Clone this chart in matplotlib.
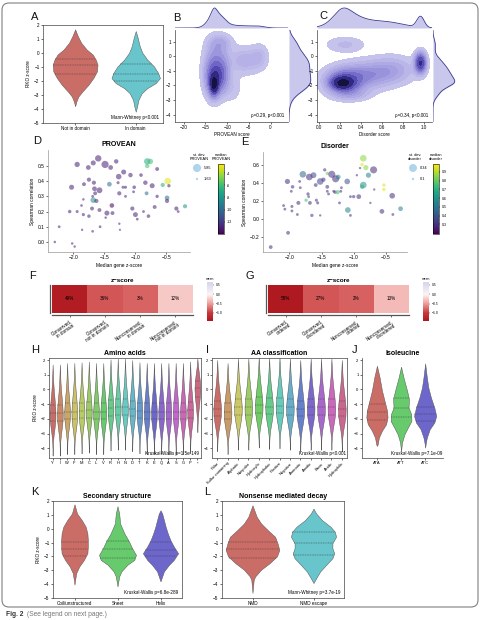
import numpy as np
import matplotlib
matplotlib.use("Agg")
import matplotlib.pyplot as plt
import seaborn as sns
from matplotlib.colors import LinearSegmentedColormap, Normalize
from matplotlib.cm import ScalarMappable
from matplotlib.patches import FancyBboxPatch

plt.rcParams['font.family'] = ['Liberation Sans', 'DejaVu Sans']
plt.rcParams['axes.linewidth'] = 0.5

W, H = 481, 620

# ---------- data ----------
# A: violin profiles (y, half width)
a_labels = ["Not in domain", "In domain"]
a_y = [[1.69, 1.21, 0.73, 0.25, -0.11, -0.47, -0.83, -1.31, -1.79, -2.27, -2.75, -3.1, -3.47, -3.8],
       [1.57, 1.09, 0.49, 0.01, -0.47, -0.95, -1.43, -1.79, -2.15, -2.51, -2.87, -3.35, -3.83, -4.19]]
a_w = [[0, .044, .10, .19, .29, .34, .37, .36, .30, .22, .12, .055, .02, 0],
       [0, .033, .066, .11, .19, .30, .37, .40, .33, .19, .10, .044, .022, 0]]
a_quart = [[-0.42, -0.88, -1.47], [-0.78, -1.5, -2.03]]

# B / C: density blobs (centre x, centre y, spread x, spread y, weight)
b_cx = [-13.0, -13.0, -12.5, -11.5, -6.0, -2.5, -11.0, -9.0]
b_cy = [-2.0, -1.6, -0.5, 0.9, -0.3, 0.0, -1.3, -2.2]
b_sx = [0.6, 1.3, 1.8, 1.8, 2.5, 1.3, 1.0, 1.5]
b_sy = [0.45, 0.8, 1.0, 0.4, 0.6, 0.55, 0.7, 0.6]
b_wt = [1.0, 0.9, 0.5, 0.25, 0.3, 0.18, 0.35, 0.15]
c_cx = [0.22, 0.24, 0.45, 0.7, 0.97, 0.25, 0.3]
c_cy = [-1.85, -1.7, -1.3, -0.9, -0.45, 0.8, -2.6]
c_sx = [0.07, 0.12, 0.18, 0.15, 0.035, 0.12, 0.12]
c_sy = [0.28, 0.55, 0.6, 0.6, 0.45, 0.35, 0.3]
c_wt = [1.0, 0.8, 0.45, 0.3, 1.2, 0.2, 0.25]

# D: PROVEAN genes
d_x = [-2.30, -2.02, -1.98, -2.23, -2.06, -1.94, -1.87, -1.86, -1.84, -1.75, -1.69, -1.70, -1.57, -1.58,
       -1.46, -1.48, -1.37, -1.38, -1.26, -1.25, -1.05, -1.00, -0.97, -0.87, -0.79, -0.69, -0.34, -0.31,
       -0.20, -2.03, -1.94, -1.76, -1.68, -1.60, -1.49, -1.40, -1.31, -1.83, -1.75, -1.67, -1.66, -1.58,
       -1.65, -1.68, -1.63, -1.69, -1.84, -1.42, -1.27, -1.19, -1.28, -1.20, -1.16, -1.26, -1.16, -1.08,
       -1.02, -1.03, -0.91, -0.84, -0.73, -0.82, -0.65, -0.65, -0.81, -0.76, -0.81, -0.56, -0.48, -0.46,
       -0.49, -0.49]
d_y = [0.00, -0.01, -0.03, 0.10, 0.20, 0.20, 0.24, 0.08, 0.18, 0.17, 0.07, 0.22, 0.10, 0.21,
       0.19, 0.16, 0.19, 0.24, 0.12, 0.08, 0.22, 0.18, 0.15, 0.20, 0.17, 0.23, 0.22, 0.20,
       0.235, 0.36, 0.51, 0.49, 0.52, 0.55, 0.51, 0.49, 0.53, 0.38, 0.41, 0.39, 0.35, 0.34,
       0.32, 0.275, 0.27, 0.30, 0.28, 0.38, 0.43, 0.46, 0.39, 0.36, 0.36, 0.32, 0.30, 0.44,
       0.36, 0.33, 0.44, 0.39, 0.37, 0.32, 0.48, 0.30, 0.53, 0.53, 0.50, 0.375, 0.40, 0.37,
       0.29, 0.27]
d_sd = [1.8, 1.8, 1.8, 2.0, 2.5, 2.2, 1.9, 1.7, 2.3, 2.5, 1.9, 2.8, 2.0, 2.8,
        3.6, 1.8, 2.8, 3.3, 1.7, 1.63, 3.0, 3.5, 2.0, 2.0, 2.6, 2.8, 3.0, 2.0,
        3.0, 3.6, 3.8, 3.4, 3.6, 4.6, 5.2, 3.4, 3.2, 2.8, 3.0, 3.0, 3.4, 4.2,
        2.8, 4.0, 3.0, 2.0, 1.8, 3.4, 4.0, 3.6, 2.2, 2.2, 2.2, 3.0, 2.0, 3.2,
        2.6, 2.0, 2.6, 3.2, 3.6, 2.8, 2.8, 2.4, 4.6, 4.0, 3.2, 3.0, 4.8, 2.4,
        3.4, 3.0]
d_med = [-13, -13, -13, -13, -13, -13, -13, -13, -13, -13, -13, -13, -13, -13,
         -13, -13, -13, -14, -13, -12, -13, -13, -13, -13, -13, -13, -13, -13,
         -8, -13, -13, -13, -13, -13, -13, -13, -13, -13, -13, -13, -13, -13,
         -13, -8.5, -13, -13, -13, -10, -13, -13, -13, -13, -13, -13, -13, -13,
         -13, -13, -13, -13, -13, -10, -13, -13, -7, -6, -6, -7, -3, -13,
         -10, -13]

# E: disorder genes
e_x = [-2.29, -2.02, -2.03, -1.95, -1.97, -2.09, -2.07, -1.96, -1.96, -1.875, -1.86, -1.84, -1.83, -1.79,
       -1.74, -1.69, -1.625, -1.70, -1.71, -1.68, -1.65, -1.59, -1.58, -1.56, -1.52, -1.52, -1.47, -1.45,
       -1.41, -1.41, -1.41, -1.39, -1.34, -1.31, -1.29, -1.28, -1.24, -1.25, -1.22, -1.19, -1.20, -1.10,
       -1.09, -1.05, -1.05, -1.00, -0.95, -0.92, -0.90, -0.85, -0.87, -0.81, -0.85, -0.87, -0.77, -0.74,
       -0.69, -0.68, -0.53, -0.53, -0.56, -0.39, -0.40, -0.27]
e_y = [-0.315, -0.155, 0.42, 0.36, 0.31, 0.15, 0.11, 0.14, 0.09, 0.05, 0.18, 0.42, 0.35, 0.50,
       0.21, 0.47, 0.49, 0.25, 0.28, 0.18, 0.04, 0.38, 0.21, 0.18, 0.42, 0.04, 0.44, 0.55,
       0.51, 0.36, 0.31, 0.28, 0.50, 0.31, 0.30, 0.45, 0.47, 0.30, 0.18, 0.35, 0.31, 0.42,
       0.10, 0.25, 0.04, 0.25, 0.49, 0.25, 0.57, 0.68, 0.61, 0.575, 0.38, 0.36, 0.49, 0.18,
       0.55, 0.33, 0.38, 0.33, 0.085, 0.05, 0.26, 0.115]
e_sd = [0.16, 0.16, 0.22, 0.15, 0.12, 0.12, 0.12, 0.13, 0.12, 0.12, 0.17, 0.12, 0.12, 0.28,
        0.14, 0.28, 0.25, 0.12, 0.14, 0.16, 0.14, 0.16, 0.13, 0.13, 0.28, 0.10, 0.18, 0.14,
        0.14, 0.16, 0.12, 0.12, 0.30, 0.12, 0.14, 0.30, 0.20, 0.18, 0.12, 0.12, 0.12, 0.24,
        0.24, 0.12, 0.12, 0.14, 0.10, 0.20, 0.10, 0.28, 0.14, 0.22, 0.28, 0.18, 0.22, 0.10,
        0.30, 0.10, 0.14, 0.14, 0.20, 0.12, 0.24, 0.20]
e_med = [0.3, 0.3, 0.3, 0.3, 0.3, 0.3, 0.3, 0.3, 0.3, 0.3, 0.3, 0.3, 0.3, 0.45,
         0.75, 0.3, 0.35, 0.35, 0.3, 0.3, 0.3, 0.3, 0.3, 0.3, 0.35, 0.3, 0.3, 0.3,
         0.8, 0.3, 0.3, 0.3, 0.3, 0.3, 0.3, 0.3, 0.55, 0.75, 0.3, 0.3, 0.3, 0.4,
         0.55, 0.3, 0.3, 0.3, 0.3, 0.3, 0.3, 0.85, 0.95, 0.85, 0.6, 0.7, 0.55, 0.3,
         0.3, 0.3, 0.95, 0.95, 0.3, 0.3, 0.3, 0.55]

# F / G: heatmaps
f_labels = ["Conserved,\nin domain", "Conserved,\nnot in domain", "Nonconserved,\nin domain", "Nonconserved,\nnot in domain"]
f_mean = [-1.35, -0.85, -0.78, -0.25]
f_pct = ["49%", "36%", "3%", "12%"]
g_labels = ["Conserved,\nordered", "Conserved,\ndisordered", "Nonconserved,\nordered", "Nonconserved,\ndisordered"]
g_mean = [-1.4, -0.85, -0.8, -0.33]
g_pct = ["58%", "27%", "2%", "13%"]

# H / I: shared violin templates (y, relative half width) and per-category shifts
tmpl_y = [[1.8, 1.2, 0.6, 0.0, -0.5, -1.0, -1.5, -2.0, -2.5, -3.0, -3.5, -4.0, -4.4],
          [2.1, 1.6, 1.0, 0.5, 0.0, -0.5, -1.0, -1.5, -2.0, -2.5, -2.9]]
tmpl_w = [[0, .1, .22, .42, .65, .85, 1.0, .95, .68, .35, .12, .03, 0],
          [0, .2, .6, .9, 1.0, .85, .6, .35, .15, .05, 0]]
tmpl_q = [[-0.95, -1.52, -2.02], [0.6, 0.1, -0.5]]
h_labels = list("YIWFMCLVRHNDTKEQASGP") + ["*"]
h_shift = [-0.1, -0.1, 0, 0, 0.05, 0.1, 0, 0, 0.25, 0.3, 0.3, 0.2, 0.05, 0, 0, 0, 0, 0, 0, 0.1, 0]
h_kind = [0] * 20 + [1]
i_labels = ["Polar", "Sulfur containing", "Aliphatic", "Nonpolar", "Hydroxylic", "Hydrophobic", "Positive",
            "Negative", "Aromatic", "Amidic", "Basic", "Acidic", "Hydrophilic"]
i_shift = [0.2, 0.0, 0.3, 0.3, 0.45, 0.35, 0.4, 0.3, 0.2, 0.3, 0.3, 0.3, 0.2]

# J: isoleucine codons
j_labels = ["ATA", "ATT", "ATC"]
j_y = [[1.61, 0.82, -0.09, -1.0, -1.45, -1.9, -2.36, -2.8, -3.27, -3.73, -3.84],
       [1.55, 0.82, -0.09, -0.66, -1.23, -1.68, -2.14, -2.6, -3.05, -3.6, -4.2],
       [1.77, 0.82, 0.14, -0.55, -1.23, -1.8, -2.25, -2.7, -3.27, -3.6, -3.95]]
j_w = [[0, .11, .21, .35, .42, .44, .38, .21, .08, .03, 0],
       [0, .10, .25, .33, .31, .42, .43, .28, .14, .04, 0],
       [0, .07, .13, .24, .38, .46, .38, .19, .07, .03, 0]]
j_quart = [[-1.0, -1.55, -2.05], [-0.6, -1.27, -1.9], [-1.2, -1.7, -2.15]]

# K: secondary structure
k_labels = ["Coil/unstructured", "Sheet", "Helix"]
k_y = [[1.76, 1.09, 0.62, 0.14, -0.34, -0.82, -1.29, -1.77, -2.25, -2.73, -3.2, -3.68, -4.04],
       [1.62, 1.09, 0.38, -0.34, -0.94, -1.41, -1.89, -2.25, -2.6, -3.08, -3.44, -4.16],
       [1.33, 1.09, 0.62, 0.14, -0.34, -0.82, -1.29, -1.77, -2.25, -2.6, -3.08, -3.44, -3.8]]
k_w = [[0, .06, .17, .26, .30, .31, .31, .30, .22, .11, .04, .016, 0],
       [0, .04, .06, .16, .27, .34, .43, .39, .23, .09, .04, 0],
       [0, .04, .08, .12, .17, .23, .31, .41, .31, .20, .08, .04, 0]]
k_quart = [[-0.94, -1.48, -2.0], [-0.89, -1.48, -2.13], [-0.95, -1.5, -2.0]]

# L: nonsense mediated decay
l_labels = ["NMD", "NMD escape"]
l_y = [[1.69, 1.33, 0.85, 0.38, -0.1, -0.58, -1.05, -1.53, -2.0, -2.49, -2.96, -3.44, -3.68, -4.63],
       [1.45, 1.09, 0.62, 0.14, -0.22, -0.58, -1.05, -1.41, -1.77, -2.13, -2.6, -3.08, -3.56, -3.92]]
l_w = [[0, .03, .07, .14, .25, .37, .41, .44, .40, .28, .14, .045, .02, 0],
       [0, .045, .14, .28, .35, .37, .31, .31, .34, .31, .21, .11, .045, 0]]
l_quart = [[-0.95, -1.48, -2.08], [-0.27, -1.0, -1.89]]


# ---------- helpers ----------
def rect(x0, y0, x1, y1):
    return [x0 / W, 1 - y1 / H, (x1 - x0) / W, (y1 - y0) / H]


def violin(ax, pos, ys, ws, color, quart, scale=1.0):
    ys = np.asarray(ys, float)
    ws = np.asarray(ws, float) * scale
    ax.fill_betweenx(ys, pos - ws, pos + ws, facecolor=color, edgecolor='#555555', lw=0.35)
    for q in quart:
        hw = np.interp(q, ys[::-1], ws[::-1])
        ax.plot([pos - hw, pos + hw], [q, q], ls=(0, (2, 1.5)), lw=0.35, color='#333333')


def style_box(ax, fs=3.3):
    ax.tick_params(labelsize=fs, length=1.5, width=0.4, pad=1)
    for s in ax.spines.values():
        s.set_color('#444444')
        s.set_linewidth(0.5)


def dens2d(X, Y, cx, cy, sx, sy, wt):
    Z = np.zeros_like(X)
    for a, b, c, d, e in zip(cx, cy, sx, sy, wt):
        Z += e * np.exp(-0.5 * (((X - a) / c) ** 2 + ((Y - b) / d) ** 2))
    return Z


def iso_levels(Z, props):
    # density thresholds that enclose the given share of mass (like seaborn's kdeplot)
    z = np.sort(Z.ravel())[::-1]
    c = np.cumsum(z)
    c /= c[-1]
    return sorted(z[np.searchsorted(c, p)] for p in props)


fig = plt.figure(figsize=(W / 100, H / 100), dpi=100)

# ---------- A ----------
pal2 = sns.color_palette("hls", 2, desat=0.75)
ax = fig.add_axes(rect(43, 25, 163, 123))
for i in range(2):
    violin(ax, i, a_y[i], a_w[i], pal2[i], a_quart[i])
ax.set_xlim(-0.53, 1.45)
ax.set_ylim(-5, 2)
ax.set_yticks(range(-5, 3))
ax.set_xticks([0, 1])
ax.set_xticklabels(a_labels)
ax.set_ylabel("RKO z-score", fontsize=3.3, labelpad=2)
ax.text(0.97, 0.03, "Mann-Whitney p<0.001", transform=ax.transAxes, ha='right', va='bottom', fontsize=3.3)
style_box(ax)

# ---------- B / C ----------
kde_cmap = LinearSegmentedColormap.from_list("kde", ["#cac8ee", "#a29de0", "#746bca", "#463ca6", "#231f6c", "#0b0a24"])
edge_col = '#3b3b8f'
props = [0.95, 0.85, 0.75, 0.65, 0.55, 0.45, 0.35, 0.25, 0.15, 0.05]
for (x0, x1, xl, xr, cx, cy, sx, sy, wt, xticks, xlab, note) in [
        (175, 288, -22, 4, b_cx, b_cy, b_sx, b_sy, b_wt, [-20, -15, -10, -5, 0], "PROVEAN score", "\u03c1=0.29, p<0.001"),
        (317, 432, -0.02, 1.08, c_cx, c_cy, c_sx, c_sy, c_wt, [0, .2, .4, .6, .8, 1.0], "Disorder score", "\u03c1=0.34, p<0.001")]:
    ax = fig.add_axes(rect(x0, 30, x1, 122))
    xs = np.linspace(xl, xr, 300)
    ys = np.linspace(-4.5, 1.8, 300)
    X, Y = np.meshgrid(xs, ys)
    Z = dens2d(X, Y, cx, cy, sx, sy, wt)
    lev = iso_levels(Z, props) + [Z.max() * 1.01]
    ax.contourf(X, Y, Z, levels=lev, cmap=kde_cmap)
    ax.set_xlim(xl, xr)
    ax.set_ylim(-4.5, 1.8)
    ax.set_xticks(xticks)
    if xl > -1:
        ax.set_xticklabels(["%.1f" % t for t in xticks])
    ax.set_yticks([1, 0, -1, -2, -3, -4])
    ax.set_xlabel(xlab, fontsize=3.3, labelpad=1)
    ax.text(0.97, 0.04, note, transform=ax.transAxes, ha='right', va='bottom', fontsize=3.3)
    style_box(ax)
    ax.spines['top'].set_visible(False)
    ax.spines['right'].set_visible(False)
    # marginals
    mx = Z.sum(axis=0)
    my = Z.sum(axis=1)
    axt = fig.add_axes(rect(x0, 3, x1, 28))
    axt.fill_between(xs, 0, mx, color='#c9c7ec', lw=0)
    axt.plot(xs, mx, color=edge_col, lw=0.6)
    axt.set_xlim(xl, xr)
    axt.set_ylim(0, mx.max() * 1.25)
    axt.axis('off')
    axr = fig.add_axes(rect(x1 + 1, 30, x1 + 26, 122))
    axr.fill_betweenx(ys, 0, my, color='#c9c7ec', lw=0)
    axr.plot(my, ys, color=edge_col, lw=0.6)
    axr.set_ylim(-4.5, 1.8)
    axr.set_xlim(0, my.max() * 1.15)
    axr.axis('off')

# ---------- D / E ----------
ov = fig.add_axes([0, 0, 1, 1], zorder=10)
ov.set_xlim(0, W)
ov.set_ylim(H, 0)
ov.axis('off')

for (x0, x1, y0, xs_, ys_, sd, med, k, vmin, vmax, ttl, yl, yt, cbx, cbt, cbfmt, leg, lname) in [
        (48, 190, 150, d_x, d_y, d_sd, d_med, 1.0, -14, -2.5, "PROVEAN", (-0.066, 0.605),
         [0.0, 0.1, 0.2, 0.3, 0.4, 0.5], 218, [-4, -6, -8, -10, -12], "%d", (5.85, 1.63), "PROVEAN"),
        (263, 407, 152, e_x, e_y, e_sd, e_med, 17.0, 0.19, 0.99, "Disorder", (-0.37, 0.75),
         [-0.2, 0.0, 0.2, 0.4, 0.6], 433, [0.3, 0.4, 0.5, 0.6, 0.7, 0.8, 0.9], "%.1f", (0.34, 0.1), "disorder")]:
    ax = fig.add_axes(rect(x0, y0, x1, 252))
    norm = Normalize(vmin, vmax)
    ax.scatter(xs_, ys_, s=(np.array(sd) * k) ** 2, c=med, cmap='viridis', norm=norm, alpha=0.55, lw=0)
    ax.set_xlim(-2.41, -0.12 if k == 1 else -0.17)
    ax.set_ylim(*yl)
    ax.set_yticks(yt)
    ax.set_xticks([-2.0, -1.5, -1.0, -0.5])
    ax.set_xlabel("Median gene z-score", fontsize=3.5, labelpad=2)
    ax.set_ylabel("Spearman correlation", fontsize=3.5, labelpad=2)
    ax.set_title(ttl, fontsize=5, fontweight='bold', pad=3)
    style_box(ax, 3.5)
    ax.spines['top'].set_visible(False)
    ax.spines['right'].set_visible(False)
    ax.spines['left'].set_color('#999999')
    ax.spines['bottom'].set_color('#999999')
    cax = fig.add_axes(rect(cbx, 164, cbx + 6, 234))
    cb = fig.colorbar(ScalarMappable(norm=norm, cmap='viridis'), cax=cax)
    cb.set_ticks(cbt)
    cb.set_ticklabels([cbfmt % t for t in cbt])
    cb.ax.tick_params(labelsize=2.6, length=1, width=0.3, pad=1)
    cb.outline.set_linewidth(0.4)
    ov.text(cbx + 3, 157, "median\n" + lname, fontsize=2.8, ha='center', va='center', linespacing=0.9)
    lx = cbx - 21 if k == 1 else cbx - 20
    ov.text(lx + 2, 157, "st. dev.\n" + lname, fontsize=2.8, ha='center', va='center', linespacing=0.9)
    ov.scatter([lx, lx], [168, 179], s=(np.array(leg) * k) ** 2, color='#9ccbe6', alpha=0.8, lw=0)
    ov.text(lx + 7, 168, str(leg[0]), fontsize=2.8, va='center')
    ov.text(lx + 7, 179, str(leg[1]), fontsize=2.8, va='center')

# ---------- F / G ----------
heat_cmap = LinearSegmentedColormap.from_list(
    "heat", [(0, "#ae1820"), (0.206, "#c7373a"), (0.445, "#ef9c98"), (0.684, "#fcf4f4"), (1.0, "#d2d4ee")])
hnorm = Normalize(-1.43, 0.66)
for (x0, x1, vals, pct, labs) in [(52, 193, f_mean, f_pct, f_labels), (268, 409, g_mean, g_pct, g_labels)]:
    ax = fig.add_axes(rect(x0, 285, x1, 313))
    ax.pcolormesh(np.array([vals]), cmap=heat_cmap, norm=hnorm)
    for i, t in enumerate(pct):
        ax.text(i + 0.5, 0.5, t, ha='center', va='center', fontsize=3.3)
    for s in ['top', 'right']:
        ax.spines[s].set_visible(False)
    for s in ['left', 'bottom']:
        ax.spines[s].set_color('#555555')
        ax.spines[s].set_linewidth(0.9)
        ax.spines[s].set_position(('outward', 1.5))
    ax.set_xlim(0, 4)
    ax.set_ylim(0, 1)
    ax.set_yticks([])
    ax.set_xticks(np.arange(4) + 0.5)
    ax.set_xticklabels(labs, rotation=35, ha='right', rotation_mode='anchor', fontsize=3.3, linespacing=1.0)
    ax.tick_params(axis='x', length=1.5, width=0.4, pad=1, labelsize=3.3)
    ax.set_title("z\u2212score", fontsize=4.5, fontweight='bold', pad=2)
    cax = fig.add_axes(rect(x1 + 14, 282, x1 + 20, 321))
    cb = fig.colorbar(ScalarMappable(norm=hnorm, cmap=heat_cmap), cax=cax)
    cb.set_ticks([0.5, 0.0, -0.5, -1.0])
    cb.set_ticklabels(["0.5", "0.0", "\u22120.5", "\u22121.0"])
    cb.ax.tick_params(labelsize=2.4, length=1, width=0.3, pad=1)
    cb.outline.set_visible(False)
    ov.text(x1 + 17, 279.5, "mean", fontsize=2.4, ha='center', va='center')

# ---------- H / I ----------
for (x0, x1, labs, shifts, kinds, ttl, note, rot, scale) in [
        (49, 201, h_labels, h_shift, h_kind, "Amino acids", "Kruskal-Wallis p=1.5e-149", 0, 0.4),
        (212, 347, i_labels, i_shift, [0] * 13, "AA classification", "Kruskal-Wallis p<0.001", 45, 0.37)]:
    ax = fig.add_axes(rect(x0, 358, x1, 458))
    pal = sns.color_palette("hls", len(labs), desat=0.75)
    for i in range(len(labs)):
        kd = kinds[i]
        yy = np.array(tmpl_y[kd]) + shifts[i]
        qq = np.array(tmpl_q[kd]) + shifts[i]
        violin(ax, i, yy, tmpl_w[kd], pal[i], qq, scale)
    ax.set_xlim(-0.5, len(labs) - 0.5)
    ax.set_ylim(-4.66, 2.14)
    ax.set_yticks(range(-4, 3))
    ax.set_xticks(range(len(labs)))
    if rot:
        ax.set_xticklabels(labs, rotation=45, ha='right', rotation_mode='anchor', fontsize=2.9)
    else:
        ax.set_xticklabels(labs, fontsize=3.0)
    ax.set_title(ttl, fontsize=5, fontweight='bold', pad=2)
    ax.text(0.99, 0.02, note, transform=ax.transAxes, ha='right', va='bottom', fontsize=3.3)
    style_box(ax, 3.0)
    ax.tick_params(axis='x', labelsize=2.9)
    if x0 == 49:
        ax.set_ylabel("RKO z-score", fontsize=3.3, labelpad=2)

# ---------- J ----------
pal3 = sns.color_palette("hls", 3, desat=0.75)
ax = fig.add_axes(rect(362, 358, 443, 458))
for i in range(3):
    violin(ax, i, j_y[i], j_w[i], pal3[i], j_quart[i])
ax.set_xlim(-0.62, 2.74)
ax.set_ylim(-4.66, 2.14)
ax.set_yticks(range(-4, 3))
ax.set_xticks(range(3))
ax.set_xticklabels(j_labels, fontsize=3.3)
ax.set_title("Isoleucine", fontsize=5, fontweight='bold', pad=2)
ax.text(0.99, 0.02, "Kruskal-Wallis p=7.1e-09", transform=ax.transAxes, ha='right', va='bottom', fontsize=3.3)
style_box(ax, 3.0)
ax.spines['top'].set_visible(False)
ax.spines['right'].set_visible(False)

# ---------- K / L ----------
for (x0, x1, labs, vy, vw, vq, pal, ttl, note) in [
        (53, 182, k_labels, k_y, k_w, k_quart, pal3, "Secondary structure", "Kruskal-Wallis p=6.8e-289"),
        (222, 344, l_labels, l_y, l_w, l_quart, pal2, "Nonsense mediated decay", "Mann-Whitney p=3.7e-19")]:
    ax = fig.add_axes(rect(x0, 501, x1, 598))
    for i in range(len(labs)):
        violin(ax, i, vy[i], vw[i], pal[i], vq[i])
    ax.set_xlim(-0.5, len(labs) - 0.5)
    ax.set_ylim(-5, 2)
    ax.set_yticks(range(-5, 3))
    ax.set_xticks(range(len(labs)))
    ax.set_xticklabels(labs, fontsize=3.3)
    ax.set_title(ttl, fontsize=5, fontweight='bold', pad=2)
    ax.text(0.97, 0.03, note, transform=ax.transAxes, ha='right', va='bottom', fontsize=3.3)
    style_box(ax, 3.3)
    if x0 == 53:
        ax.set_ylabel("RKO z-score", fontsize=3.3, labelpad=2)

# ---------- letters, frame, caption ----------
for lab, x, y in [("A", 35, 17), ("B", 177, 18), ("C", 323, 16), ("D", 37, 141), ("E", 245, 142),
                  ("F", 33, 276), ("G", 250, 276), ("H", 35, 350), ("I", 208, 350), ("J", 355, 350),
                  ("K", 35, 492), ("L", 207, 492)]:
    ov.text(x, y, lab, fontsize=8, ha='center', va='center', color='#111111')
ov.add_patch(FancyBboxPatch((2, 3), 476, 604, boxstyle="round,pad=0,rounding_size=7",
                            fill=False, ec='#808080', lw=0.8))
ov.text(6, 615, "Fig. 2", fontsize=4.8, fontweight='bold', color='#333333', va='center')
ov.text(27, 615, "(See legend on next page.)", fontsize=4.8, color='#777777', va='center')

fig.savefig("out.png", dpi=100)
